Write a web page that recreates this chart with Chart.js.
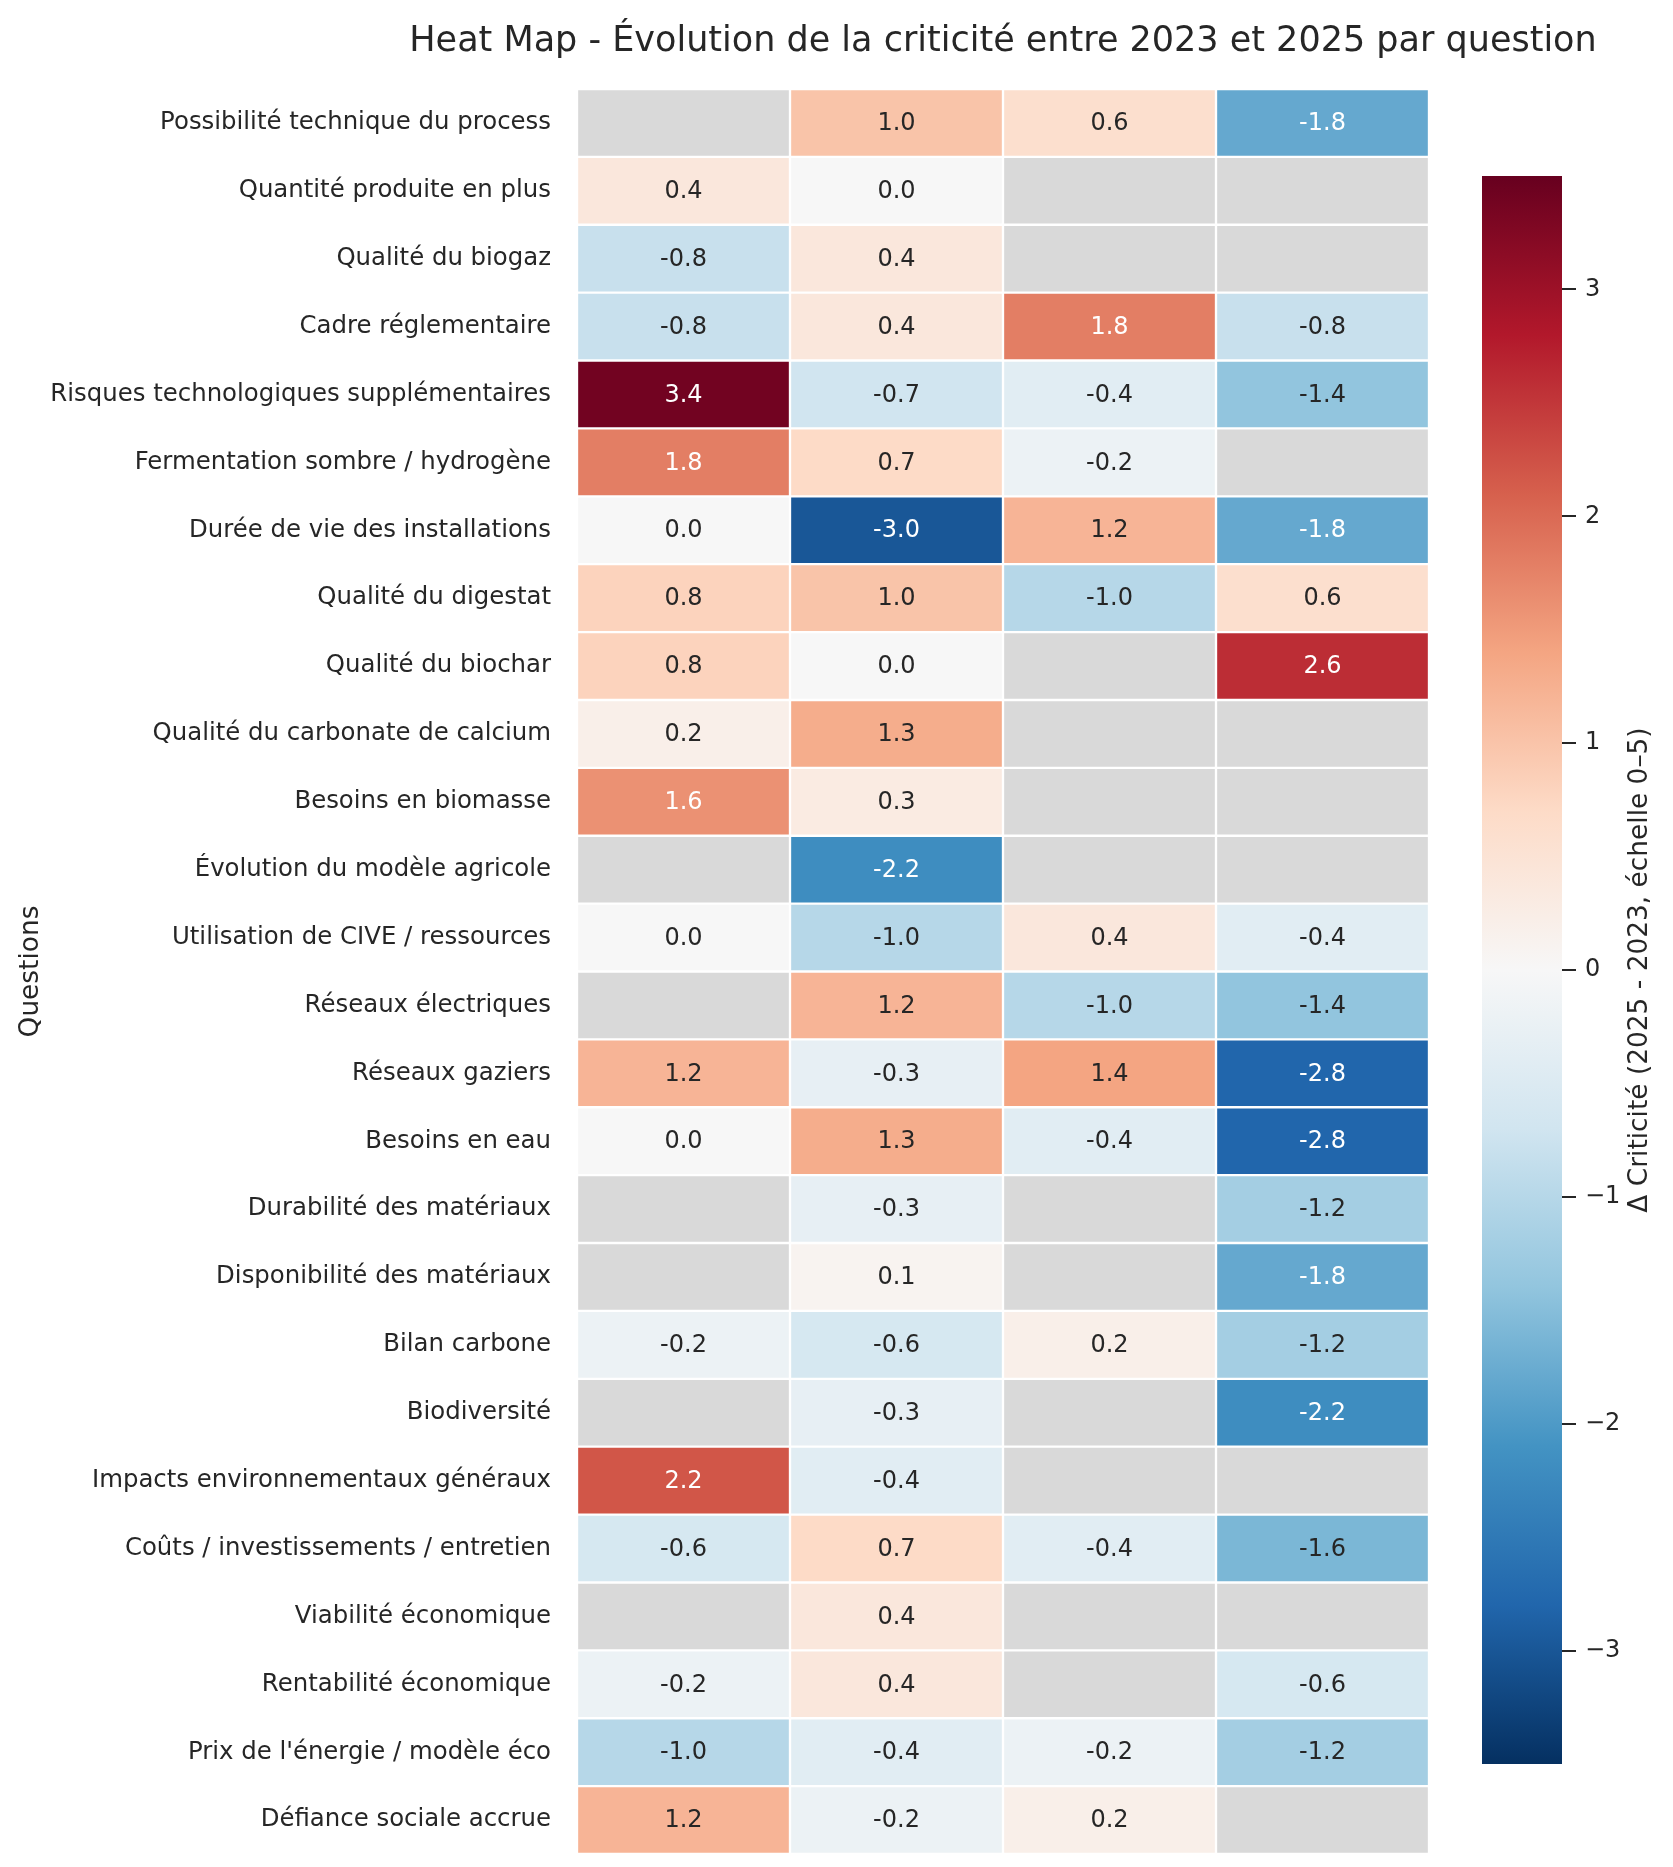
<!DOCTYPE html>
<html>
<head>
<meta charset="utf-8">
<script src="https://cdn.jsdelivr.net/npm/chart.js@4.4.1/dist/chart.umd.min.js"></script>
<style>
  html, body { margin: 0; padding: 0; background: #fff; }
  #wrap { position: relative; width: 1673px; height: 1867px; }
  #heat { position: absolute; left: 0; top: 0; }
  #cbar { position: absolute; left: 1440px; top: 0; }
</style>
</head>
<body>
<div id="wrap">
  <canvas id="heat" width="1673" height="1867"></canvas>
  <canvas id="cbar" width="233" height="1867"></canvas>
</div>
<script>
// questions (rows, top to bottom)
const questions = [
  "Possibilité technique du process",
  "Quantité produite en plus",
  "Qualité du biogaz",
  "Cadre réglementaire",
  "Risques technologiques supplémentaires",
  "Fermentation sombre / hydrogène",
  "Durée de vie des installations",
  "Qualité du digestat",
  "Qualité du biochar",
  "Qualité du carbonate de calcium",
  "Besoins en biomasse",
  "Évolution du modèle agricole",
  "Utilisation de CIVE / ressources",
  "Réseaux électriques",
  "Réseaux gaziers",
  "Besoins en eau",
  "Durabilité des matériaux",
  "Disponibilité des matériaux",
  "Bilan carbone",
  "Biodiversité",
  "Impacts environnementaux généraux",
  "Coûts / investissements / entretien",
  "Viabilité économique",
  "Rentabilité économique",
  "Prix de l'énergie / modèle éco",
  "Défiance sociale accrue"
];

// one array per column of the heat map (null = no data, grey cell)
const col1 = [null, 0.4, -0.8, -0.8, 3.4, 1.8, 0.0, 0.8, 0.8, 0.2, 1.6, null, 0.0, null, 1.2, 0.0, null, null, -0.2, null, 2.2, -0.6, null, -0.2, -1.0, 1.2];
const col2 = [1.0, 0.0, 0.4, 0.4, -0.7, 0.7, -3.0, 1.0, 0.0, 1.3, 0.3, -2.2, -1.0, 1.2, -0.3, 1.3, -0.3, 0.1, -0.6, -0.3, -0.4, 0.7, 0.4, 0.4, -0.4, -0.2];
const col3 = [0.6, null, null, 1.8, -0.4, -0.2, 1.2, -1.0, null, null, null, null, 0.4, -1.0, 1.4, -0.4, null, null, 0.2, null, null, -0.4, null, null, -0.2, 0.2];
const col4 = [-1.8, null, null, -0.8, -1.4, null, -1.8, 0.6, 2.6, null, null, null, -0.4, -1.4, -2.8, -2.8, -1.2, -1.8, -1.2, -2.2, null, -1.6, null, -0.6, -1.2, null];
const columns = [col1, col2, col3, col4];

// colour scale
const vmin = -3.5, vmax = 3.5;
const cbarTicks = [-3, -2, -1, 0, 1, 2, 3];

// RdBu_r
const rdbuR = ["#053061", "#2166ac", "#4393c3", "#92c5de", "#d1e5f0", "#f7f7f7",
               "#fddbc7", "#f4a582", "#d6604d", "#b2182b", "#67001f"];

const titleText = "Heat Map - Évolution de la criticité entre 2023 et 2025 par question";
const missingColor = "#d9d9d9";
const darkText = "#262626";
const fontFamily = "'DejaVu Sans', sans-serif";

function hexToRgb(h) {
  return [parseInt(h.slice(1, 3), 16), parseInt(h.slice(3, 5), 16), parseInt(h.slice(5, 7), 16)];
}
function cmap(v) {
  let t = (v - vmin) / (vmax - vmin);
  t = Math.max(0, Math.min(1, t));
  const pos = t * (rdbuR.length - 1);
  const i = Math.min(Math.floor(pos), rdbuR.length - 2);
  const f = pos - i;
  const a = hexToRgb(rdbuR[i]), b = hexToRgb(rdbuR[i + 1]);
  return a.map((c, k) => Math.round(c + (b[k] - c) * f));
}
function rgbStr(c) { return `rgb(${c[0]},${c[1]},${c[2]})`; }
// same rule as seaborn for annotation colour
function textColorFor(c) {
  const lin = c.map(x => {
    x = x / 255;
    return x <= 0.03928 ? x / 12.92 : Math.pow((x + 0.055) / 1.055, 2.4);
  });
  const lum = 0.2126 * lin[0] + 0.7152 * lin[1] + 0.0722 * lin[2];
  return lum > 0.408 ? darkText : "#ffffff";
}

const datasets = columns.map((col, j) => ({
  label: "col" + (j + 1),
  data: col.map(() => [j, j + 1]),
  values: col,
  backgroundColor: col.map(v => v === null ? missingColor : rgbStr(cmap(v))),
  borderColor: "#ffffff",
  borderWidth: 1.5,
  borderSkipped: false,
  grouped: false,
  barPercentage: 1,
  categoryPercentage: 1
}));

// writes the value in each cell
const cellLabels = {
  id: "cellLabels",
  afterDatasetsDraw(chart) {
    const ctx = chart.ctx;
    ctx.save();
    ctx.font = "24px " + fontFamily;
    ctx.textAlign = "center";
    ctx.textBaseline = "middle";
    chart.data.datasets.forEach((ds, di) => {
      const meta = chart.getDatasetMeta(di);
      meta.data.forEach((el, i) => {
        const v = ds.values[i];
        if (v === null) return;
        const cx = (el.x + el.base) / 2;
        ctx.fillStyle = textColorFor(cmap(v));
        ctx.fillText(v.toFixed(1), cx, el.y + 1);
      });
    });
    ctx.restore();
  }
};

// title centred over the cells, allowed to run wider than them
const wideTitle = {
  id: "wideTitle",
  afterDraw(chart) {
    const { ctx, chartArea } = chart;
    ctx.save();
    ctx.font = "35px " + fontFamily;
    ctx.fillStyle = darkText;
    ctx.textAlign = "center";
    ctx.textBaseline = "alphabetic";
    ctx.fillText(titleText, (chartArea.left + chartArea.right) / 2, 51);
    ctx.restore();
  }
};

new Chart(document.getElementById("heat"), {
  type: "bar",
  data: { labels: questions, datasets: datasets },
  options: {
    indexAxis: "y",
    responsive: false,
    animation: false,
    layout: { padding: { top: 89, left: 0, right: 244, bottom: 13 } },
    plugins: {
      legend: { display: false },
      tooltip: { enabled: false },
      title: { display: false }
    },
    scales: {
      x: { type: "linear", min: 0, max: 4, display: false },
      y: {
        type: "category",
        grid: { display: false },
        border: { display: false },
        ticks: { color: darkText, font: { family: fontFamily, size: 24.4 }, padding: 18, autoSkip: false },
        title: {
          display: true,
          text: "Questions",
          color: darkText,
          font: { family: fontFamily, size: 26.4 },
          padding: { top: 15, bottom: 0 }
        },
        afterFit(scale) {
          scale.width = 577;
          scale.paddingTop = 0;
          scale.paddingBottom = 0;
        }
      }
    }
  },
  plugins: [cellLabels, wideTitle]
});

// colour bar
const cbarTitle = {
  id: "cbarTitle",
  afterDraw(chart) {
    const { ctx, chartArea } = chart;
    ctx.save();
    ctx.translate(200, (chartArea.top + chartArea.bottom) / 2);
    ctx.rotate(-Math.PI / 2);
    ctx.font = "26.4px " + fontFamily;
    ctx.fillStyle = darkText;
    ctx.textAlign = "center";
    ctx.textBaseline = "middle";
    ctx.fillText("Δ Criticité (2025 - 2023, échelle 0–5)", 0, 0);
    ctx.restore();
  }
};

new Chart(document.getElementById("cbar"), {
  type: "bar",
  data: {
    labels: ["cb"],
    datasets: [{
      data: [[vmin, vmax]],
      backgroundColor(context) {
        const { ctx, chartArea } = context.chart;
        if (!chartArea) return null;
        const g = ctx.createLinearGradient(0, chartArea.bottom, 0, chartArea.top);
        rdbuR.forEach((c, i) => g.addColorStop(i / (rdbuR.length - 1), c));
        return g;
      },
      borderWidth: 0,
      barPercentage: 1,
      categoryPercentage: 1
    }]
  },
  options: {
    responsive: false,
    animation: false,
    layout: { padding: { top: 176, left: 42, right: 0, bottom: 103 } },
    plugins: { legend: { display: false }, tooltip: { enabled: false }, title: { display: false } },
    scales: {
      x: { display: false },
      y: {
        position: "right",
        min: vmin,
        max: vmax,
        afterBuildTicks(scale) { scale.ticks = cbarTicks.map(v => ({ value: v })); },
        grid: { drawOnChartArea: false, drawTicks: true, tickLength: 14, color: darkText, lineWidth: 2 },
        border: { display: false },
        ticks: {
          color: darkText,
          font: { family: fontFamily, size: 24 },
          padding: 9,
          callback: v => v < 0 ? "\u2212" + Math.abs(v) : String(v)
        },
        afterFit(scale) {
          scale.width = 111;
          scale.paddingTop = 0;
          scale.paddingBottom = 0;
        }
      }
    }
  },
  plugins: [cbarTitle]
});
</script>
</body>
</html>
